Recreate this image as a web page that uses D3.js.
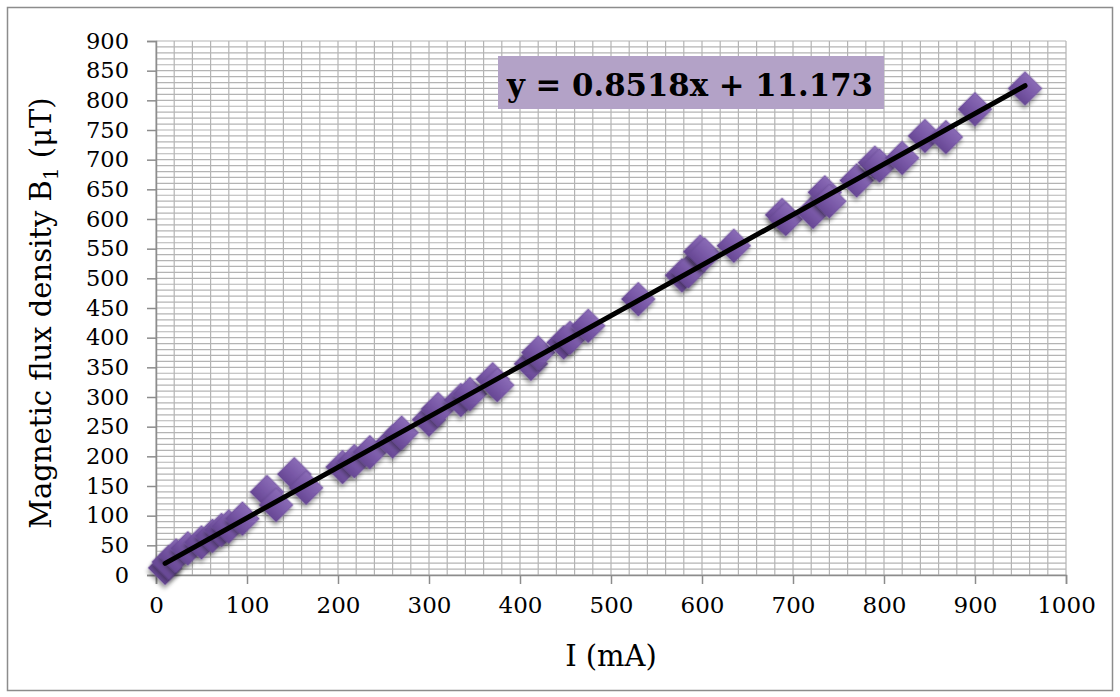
<!DOCTYPE html>
<html>
<head>
<meta charset="utf-8">
<script src="https://cdn.jsdelivr.net/npm/d3@7"></script>
<style>
  html, body { margin: 0; padding: 0; background: #fff; }
  svg { display: block; }
</style>
</head>
<body>
<svg id="chart" width="1120" height="697"></svg>
<script>
// ---- data ----
const currentMA = [10, 14, 22, 35, 50, 62, 72, 80, 95, 122, 132, 152, 165, 205, 218, 235, 260, 270, 300, 310, 335, 345, 370, 375, 412, 420, 448, 455, 475, 530, 578, 585, 598, 603, 635, 688, 692, 722, 735, 740, 770, 790, 795, 820, 845, 868, 900, 955];
const fluxUT   = [12, 22, 33, 45, 55, 66, 76, 82, 95, 140, 118, 170, 147, 182, 192, 207, 225, 240, 262, 280, 295, 305, 330, 320, 356, 375, 392, 400, 420, 465, 505, 512, 545, 540, 555, 607, 600, 612, 645, 630, 665, 695, 690, 703, 740, 738, 785, 820];
const xTicks = [0, 100, 200, 300, 400, 500, 600, 700, 800, 900, 1000];
const yTicks = [0, 50, 100, 150, 200, 250, 300, 350, 400, 450, 500, 550, 600, 650, 700, 750, 800, 850, 900];
const trendSlope = 0.8518;
const trendIntercept = 11.173;
const equationLabel = "y = 0.8518x + 11.173";
const xTitle = "I (mA)";
const yTitleMain = "Magnetic flux density B";
const yTitleSub = "1";
const yTitleTail = " (\u03BCT)";

// ---- layout ----
const svg = d3.select("#chart");
const pL = 156, pR = 1066, pT = 41, pB = 575;
const x = d3.scaleLinear().domain([0, 1000]).range([pL, pR]);
const y = d3.scaleLinear().domain([0, 900]).range([pB, pT]);
const serif = "'DejaVu Serif', 'Liberation Serif', serif";

// outer chart border
svg.append("rect").attr("x", 7.5).attr("y", 7.5).attr("width", 1105).attr("height", 683)
  .attr("fill", "#fff").attr("stroke", "#8c8c8c").attr("stroke-width", 1.5);

const defs = svg.append("defs");
const grad = defs.append("linearGradient").attr("id", "dg").attr("x1", 0).attr("y1", 0).attr("x2", 0).attr("y2", 1);
grad.append("stop").attr("offset", "0%").attr("stop-color", "#8a6cb6");
grad.append("stop").attr("offset", "55%").attr("stop-color", "#7857a6");
grad.append("stop").attr("offset", "100%").attr("stop-color", "#674793");
const filt = defs.append("filter").attr("id", "sh").attr("x", "-50%").attr("y", "-50%").attr("width", "200%").attr("height", "200%");
filt.append("feDropShadow").attr("dx", 2).attr("dy", 3).attr("stdDeviation", 2)
  .attr("flood-color", "#000").attr("flood-opacity", 0.4);

// grid
const gridColor = "#b4b4b4";
const g = svg.append("g");
g.selectAll("line.vg").data(d3.range(0, 1001, 20)).join("line")
  .attr("x1", d => x(d)).attr("x2", d => x(d)).attr("y1", pT).attr("y2", pB)
  .attr("stroke", gridColor).attr("stroke-width", 1.2);
g.selectAll("line.hg").data(d3.range(0, 901, 10)).join("line")
  .attr("x1", pL).attr("x2", pR).attr("y1", d => y(d)).attr("y2", d => y(d))
  .attr("stroke", gridColor).attr("stroke-width", 1.2);

// axes
const xAxis = d3.axisBottom(x).tickValues(xTicks).tickSize(9).tickPadding(13).tickFormat(d3.format("d"));
const yAxis = d3.axisLeft(y).tickValues(yTicks).tickSize(9).tickPadding(18).tickFormat(d3.format("d"));
const gx = svg.append("g").attr("transform", `translate(0,${pB})`).call(xAxis);
const gy = svg.append("g").attr("transform", `translate(${pL},0)`).call(yAxis);
[gx, gy].forEach(ax => {
  ax.select(".domain").attr("stroke", "#8c8c8c").attr("stroke-width", 1.5);
  ax.selectAll(".tick line").attr("stroke", "#8c8c8c").attr("stroke-width", 1.5);
  ax.selectAll(".tick text").attr("font-family", serif).attr("fill", "#000");
});
gy.selectAll(".tick text").attr("font-size", 22.5);
gx.selectAll(".tick text").attr("font-size", 23);

// markers
svg.append("g").selectAll("path").data(currentMA.map((v, i) => [v, fluxUT[i]])).join("path")
  .attr("d", d3.symbol().type(d3.symbolSquare).size(580))
  .attr("transform", d => `translate(${x(d[0])},${y(d[1])}) rotate(45)`)
  .attr("fill", "url(#dg)")
  .attr("stroke", "#6a4a96").attr("stroke-width", 0.8).attr("stroke-opacity", 0.6)
  .attr("filter", "url(#sh)");

// trendline
const xMin = d3.min(currentMA), xMax = d3.max(currentMA);
svg.append("line")
  .attr("x1", x(xMin)).attr("y1", y(trendSlope * xMin + trendIntercept))
  .attr("x2", x(xMax)).attr("y2", y(trendSlope * xMax + trendIntercept))
  .attr("stroke", "#000").attr("stroke-width", 5).attr("stroke-linecap", "round");

// equation label
svg.append("rect").attr("x", 498).attr("y", 56).attr("width", 386).attr("height", 53).attr("fill", "#b3a2c7");
svg.append("text").attr("x", 690).attr("y", 96).attr("text-anchor", "middle")
  .attr("font-family", serif).attr("font-weight", "bold").attr("font-size", 31)
  .attr("textLength", 366).attr("lengthAdjust", "spacingAndGlyphs")
  .text(equationLabel);

// axis titles
svg.append("text").attr("x", x(500)).attr("y", 666).attr("text-anchor", "middle")
  .attr("font-family", serif).attr("font-size", 29).text(xTitle);
const yt = svg.append("text").attr("transform", `translate(51,313) rotate(-90)`)
  .attr("text-anchor", "middle").attr("font-family", serif).attr("font-size", 29);
yt.append("tspan").text(yTitleMain);
yt.append("tspan").attr("dy", 7).attr("font-size", 20).text(yTitleSub);
yt.append("tspan").attr("dy", -7).text(yTitleTail);
</script>
</body>
</html>
